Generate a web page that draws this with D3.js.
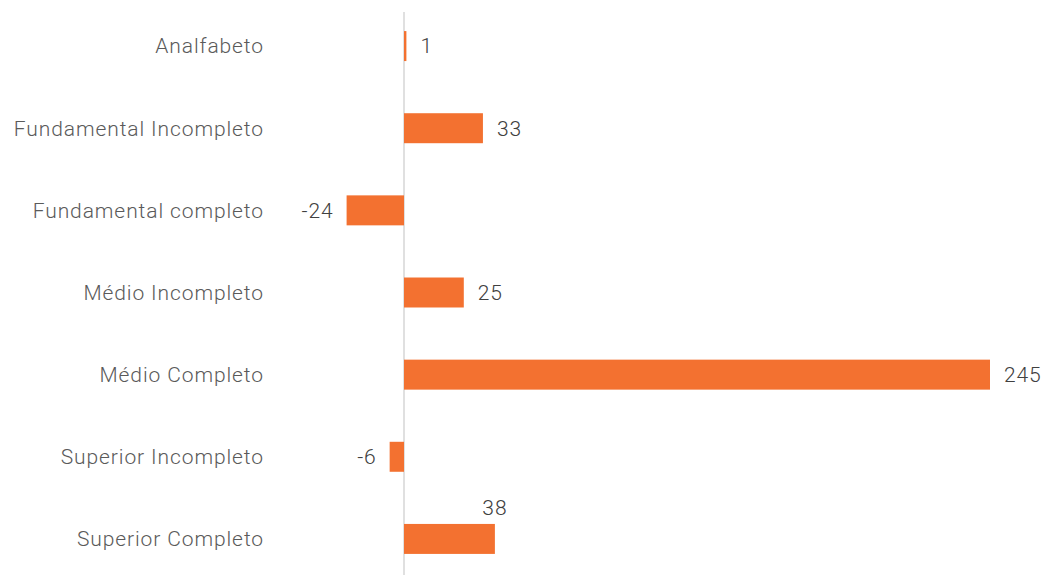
<!DOCTYPE html>
<html>
<head>
<meta charset="utf-8">
<script src="https://cdn.jsdelivr.net/npm/d3@7"></script>
<style>
    body { margin: 0; background: #fff; }
    svg text { font-family: Roboto, "Noto Sans", sans-serif; font-weight: 300; }
</style>
</head>
<body>
<div id="chart"></div>
<script>

var categories = ['Analfabeto', 'Fundamental Incompleto', 'Fundamental completo', 'Médio Incompleto',
    'Médio Completo', 'Superior Incompleto', 'Superior Completo']
var values = [1, 33, -24, 25, 245, -6, 38]

var width = 1042,
    height = 575

var svg = d3.select('#chart')
    .append('svg')
        .attr('width', width)
        .attr('height', height)

var x = d3.scaleLinear()
    .domain([0, 245])
    .range([404, 990])

var y = d3.scaleBand()
    .domain(categories)
    .range([5, 580])
    .paddingInner(0.635)
    .paddingOuter(0.3175)

// zero line
svg.append('line')
    .attr('x1', x(0)).attr('x2', x(0))
    .attr('y1', 12).attr('y2', height)
    .style('stroke', '#d0d0d0')
    .style('stroke-width', 1.3)

svg.selectAll('rect.bar')
    .data(values)
    .enter()
    .append('rect')
    .attr('class', 'bar')
    .attr('x', function(d) { return Math.min(x(0), x(d)) })
    .attr('width', function(d) { return Math.abs(x(d) - x(0)) })
    .attr('y', function(d, i) { return y(categories[i]) })
    .attr('height', y.bandwidth())
    .style('fill', '#F37130')

// category labels
svg.selectAll('text.cat')
    .data(categories)
    .enter()
    .append('text')
    .attr('class', 'cat')
    .attr('x', 264)
    .attr('y', function(d) { return y(d) + y.bandwidth() / 2 })
    .attr('dy', '0.35em')
    .attr('text-anchor', 'end')
    .style('font-size', '21px')
    .style('letter-spacing', '0.9px')
    .style('fill', '#5a5a5a')
    .text(function(d) { return d })

// value labels; the last one sits above its bar like in the original
svg.selectAll('text.val')
    .data(values)
    .enter()
    .append('text')
    .attr('class', 'val')
    .attr('x', function(d, i) {
        if (i === values.length - 1) return x(d)
        return d >= 0 ? x(d) + 14 : x(d) - 13
    })
    .attr('y', function(d, i) {
        var c = y(categories[i]) + y.bandwidth() / 2
        return i === values.length - 1 ? c - 31 : c
    })
    .attr('dy', '0.35em')
    .attr('text-anchor', function(d, i) {
        if (i === values.length - 1) return 'middle'
        return d >= 0 ? 'start' : 'end'
    })
    .style('font-size', '21px')
    .style('letter-spacing', '0.9px')
    .style('fill', '#404040')
    .text(function(d) { return d })

</script>
</body>
</html>
